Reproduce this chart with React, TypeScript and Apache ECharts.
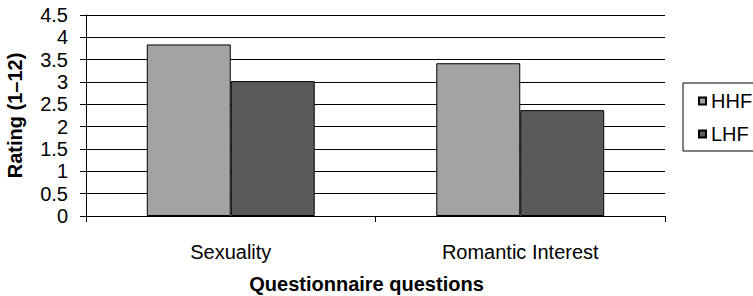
import React, { useEffect, useRef } from "react";
import * as echarts from "echarts";

const categories = ["Sexuality", "Romantic Interest"];
const hhfValues = [3.84, 3.42];
const lhfValues = [3.02, 2.37];
const seriesNames = ["HHF", "LHF"];
const yAxisName = "Rating (1\u201312)";
const xAxisName = "Questionnaire questions";

const FONT = "'Liberation Sans', Arial, sans-serif";

export default function App() {
  const ref = useRef<HTMLDivElement>(null);
  useEffect(() => {
    if (!ref.current) return;
    const chart = echarts.init(ref.current, null, { renderer: "svg" });
    chart.setOption({
      animation: false,
      backgroundColor: "#ffffff",
      textStyle: { fontFamily: FONT, color: "#000" },
      grid: { left: 86, right: 88, top: 15, bottom: 80, containLabel: false, outerBoundsMode: "none" },
      legend: {
        orient: "vertical",
        left: 683,
        top: 83,
        padding: [8, 30, 7, 15],
        borderColor: "#000",
        borderWidth: 1,
        icon: "rect",
        itemWidth: 7,
        itemHeight: 7,
        itemGap: 13,
        textStyle: { fontFamily: FONT, fontSize: 20, color: "#000" },
        data: seriesNames,
      },
      xAxis: {
        type: "category",
        data: categories,
        axisLine: { lineStyle: { color: "#000", width: 1 } },
        axisTick: { show: true, length: 6, alignWithLabel: false, lineStyle: { color: "#000" } },
        axisLabel: { fontFamily: FONT, fontSize: 20, color: "#000", margin: 26 },
        name: xAxisName,
        nameLocation: "middle",
        nameGap: 58,
        nameTextStyle: { fontFamily: FONT, fontSize: 20, fontWeight: "bold", color: "#000", padding: [0, 18, 0, 0] },
      },
      yAxis: {
        type: "value",
        min: 0,
        max: 4.5,
        interval: 0.5,
        axisLine: { show: true, lineStyle: { color: "#000", width: 1 } },
        axisTick: { show: true, length: 6, lineStyle: { color: "#000" } },
        axisLabel: { fontFamily: FONT, fontSize: 20, color: "#000", margin: 18 },
        splitLine: { show: true, lineStyle: { color: "#000", width: 1 } },
        name: yAxisName,
        nameLocation: "middle",
        nameRotate: 90,
        nameGap: 61,
        nameTextStyle: { fontFamily: FONT, fontSize: 20, fontWeight: "bold", color: "#000" },
      },
      series: [
        {
          name: seriesNames[0],
          type: "bar",
          data: hhfValues,
          barGap: "0%",
          barCategoryGap: "42%",
          itemStyle: { color: "#a3a3a3", borderColor: "#000", borderWidth: 1 },
        },
        {
          name: seriesNames[1],
          type: "bar",
          data: lhfValues,
          barGap: "0%",
          barCategoryGap: "42%",
          itemStyle: { color: "#5a5a5a", borderColor: "#000", borderWidth: 1 },
        },
      ],
    });
    return () => chart.dispose();
  }, []);
  return <div ref={ref} style={{ width: 753, height: 296, position: "absolute", left: 0, top: 0 }} />;
}
